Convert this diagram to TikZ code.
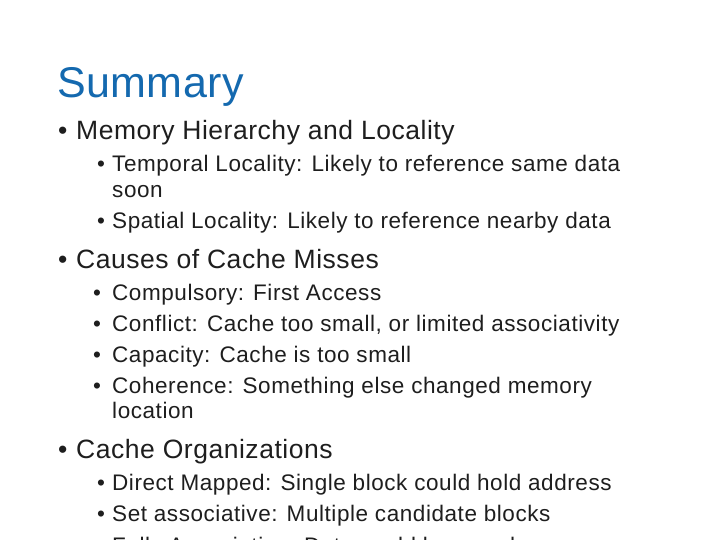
\documentclass[tikz,border=0pt]{standalone}
\usepackage{fontspec}
\setmainfont{Liberation Sans}
\newfontfamily\lone[LetterSpace=2]{Liberation Sans}
\newfontfamily\ltwo[LetterSpace=2.5]{Liberation Sans}
\newfontfamily\lttl[LetterSpace=1]{Liberation Sans}
\definecolor{ttl}{RGB}{20,105,175}
\definecolor{txt}{RGB}{30,30,30}
\begin{document}
\begin{tikzpicture}[x=1pt,y=-1pt,
  l1/.style={anchor=base west,inner sep=0,text=txt,font=\lone\fontsize{26.5}{28}\selectfont},
  l2/.style={anchor=base west,inner sep=0,text=txt,font=\ltwo\fontsize{22.5}{24}\selectfont}]
\clip (0,0) rectangle (720,540);
\useasboundingbox (0,0) rectangle (720,540);
\fill[white] (0,0) rectangle (720,540);
\node[anchor=base west,inner sep=0,text=ttl,font=\lttl\fontsize{43}{48}\selectfont] (t) at (57,98) {Summary};
\node[l1] (a) at (58,140) {\makebox[18pt][l]{•}Memory Hierarchy and Locality};
\node[l2] (a1) at (97,172) {\makebox[15pt][l]{•}Temporal Locality: Likely to reference same data};
\node[l2] (a1b) at (112,197) {soon};
\node[l2] (a2) at (97,229) {\makebox[15pt][l]{•}Spatial Locality: Likely to reference nearby data};
\node[l1] (b) at (58,268) {\makebox[18pt][l]{•}Causes of Cache Misses};
\node[l2] (b1) at (93,300) {\makebox[19pt][l]{•}Compulsory: First Access};
\node[l2] (b2) at (93,331) {\makebox[19pt][l]{•}Conflict: Cache too small, or limited associativity};
\node[l2] (b3) at (93,362) {\makebox[19pt][l]{•}Capacity: Cache is too small};
\node[l2] (b4) at (93,393) {\makebox[19pt][l]{•}Coherence: Something else changed memory};
\node[l2] (b4b) at (112,418) {location};
\node[l1] (c) at (58,458) {\makebox[18pt][l]{•}Cache Organizations};
\node[l2] (c1) at (97,490) {\makebox[15pt][l]{•}Direct Mapped: Single block could hold address};
\node[l2] (c2) at (97,521) {\makebox[15pt][l]{•}Set associative: Multiple candidate blocks};
\node[l2] (c3) at (97,553) {\makebox[15pt][l]{•}Fully Associative: Data could be anywhere};
\end{tikzpicture}
\end{document}
